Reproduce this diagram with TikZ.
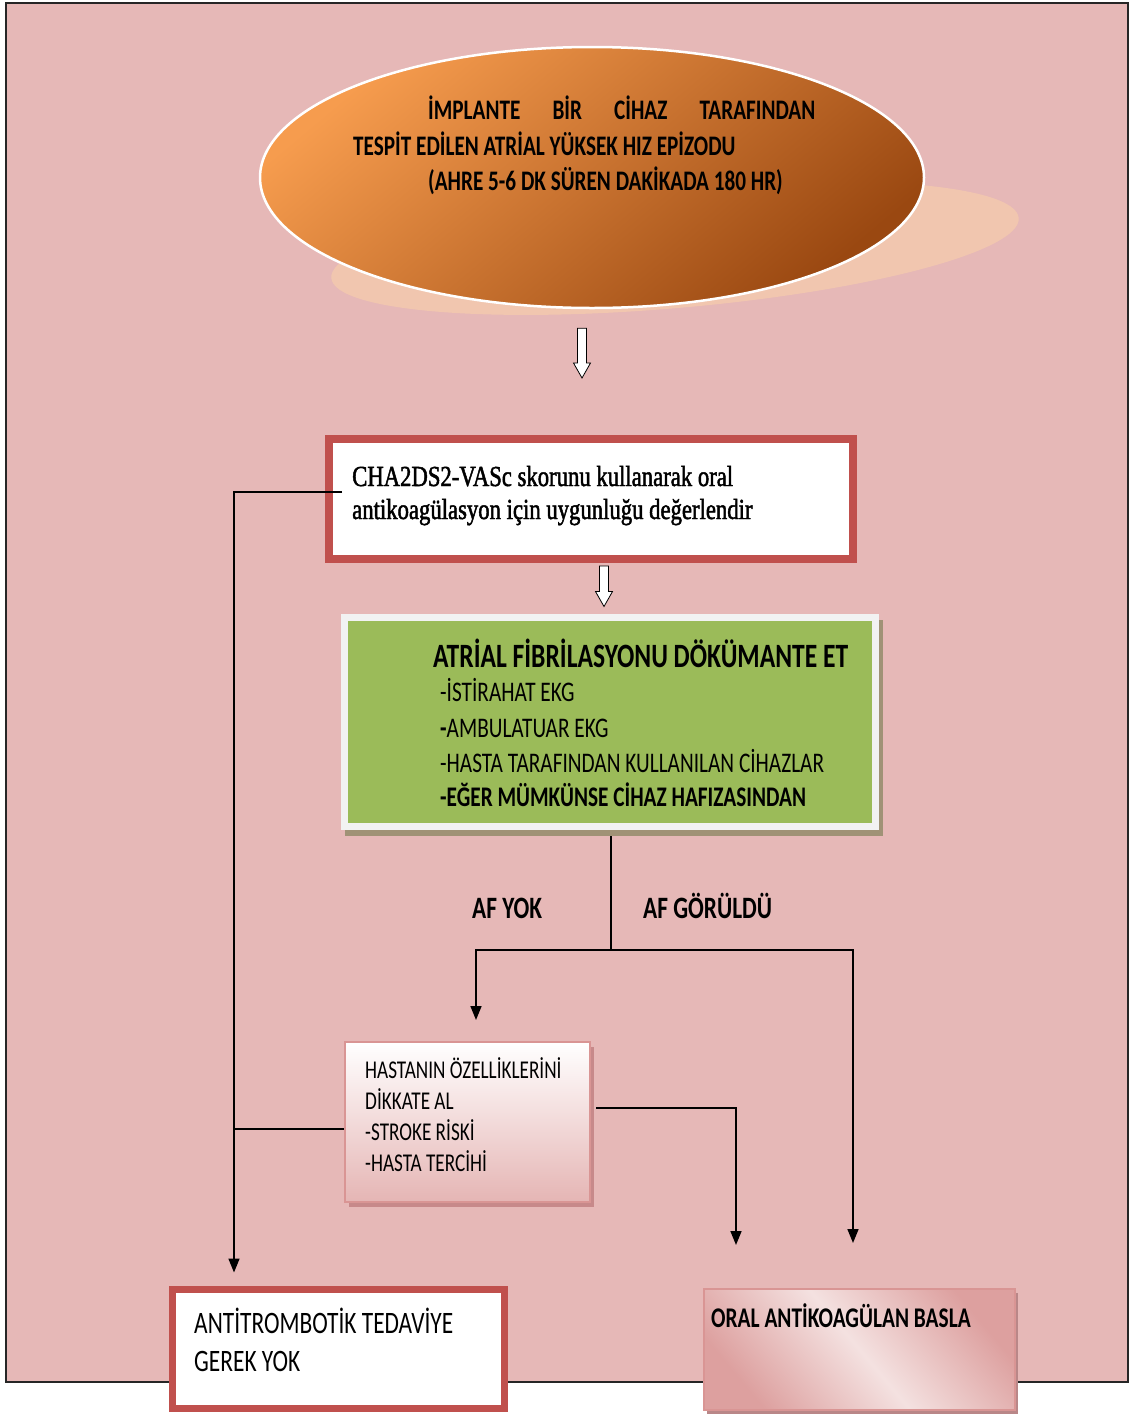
\documentclass[tikz,border=0pt]{standalone}
\usepackage{fontspec}
\usetikzlibrary{shapes.geometric,arrows.meta,calc}
\newfontfamily\calib[FakeStretch=0.75]{Carlito}
\newfontfamily\tnr[FakeStretch=0.78,FakeBold=1.6]{Liberation Serif}
\definecolor{bgpink}{HTML}{E6B8B7}
\definecolor{redb}{HTML}{C0504D}
\definecolor{agreen}{HTML}{9BBB59}
\definecolor{gframe}{HTML}{F2F2F2}
\definecolor{gshadow}{HTML}{A09276}
\definecolor{pinkb}{HTML}{D99594}
\definecolor{pinkl}{HTML}{F2DCDB}
\definecolor{pinksh}{HTML}{C7898A}
\definecolor{orL}{HTML}{F69C4E}
\definecolor{orD}{HTML}{9A4811}
\definecolor{ellsh}{HTML}{F1C6AF}
\pgfdeclarelayer{back}
\pgfdeclarelayer{lines}
\pgfsetlayers{back,lines,main}
\newcommand\hollowarrow[2]{%
  \draw[hollowstyle] ($(#1)+(-4.5,0)$) -- ($(#2)+(-4.5,-15)$) -- ($(#2)+(-8.5,-15)$) -- (#2)
    -- ($(#2)+(8.5,-15)$) -- ($(#2)+(4.5,-15)$) -- ($(#1)+(4.5,0)$) -- cycle;}
\begin{document}
\begin{tikzpicture}[x=1pt,y=-1pt,
  txt/.style={inner sep=0pt, anchor=base west, text=black},
  elltxt/.style={txt, font=\calib\bfseries\fontsize{28.3}{34}\selectfont},
  sertxt/.style={txt, font=\tnr\fontsize{29.1}{35}\selectfont},
  gtitle/.style={txt, font=\calib\bfseries\fontsize{34.1}{40}\selectfont},
  glist/.style={txt, font=\calib\fontsize{28.4}{34}\selectfont},
  aflabel/.style={txt, font=\calib\bfseries\fontsize{31.1}{36}\selectfont},
  hasttxt/.style={txt, font=\calib\fontsize{25.6}{30}\selectfont},
  antitxt/.style={txt, font=\calib\fontsize{31.2}{36}\selectfont},
  oraltxt/.style={txt, font=\calib\bfseries\fontsize{28.5}{34}\selectfont},
  hollowstyle/.style={draw=black, fill=white, line width=0.8pt, line join=miter},
  conn/.style={draw=black, line width=1.6pt},
  arr/.style={conn, -{Triangle[length=14pt,width=11pt]}},
  ellnode/.style={ellipse, draw=white, line width=2.5pt, inner sep=0pt,
    minimum width=664pt, minimum height=261pt, top color=orL, bottom color=orD, shading angle=40},
  chabox/.style={draw=redb, line width=6pt, fill=white, inner sep=0pt,
    minimum width=526pt, minimum height=122pt},
  greenbox/.style={fill=agreen, draw=gframe, line width=7pt, inner sep=0pt,
    minimum width=531pt, minimum height=209pt,
    preaction={fill=gshadow, draw=gshadow, line width=7pt, transform canvas={xshift=4pt,yshift=-6pt}}},
  hastbox/.style={draw=pinkb, line width=2pt, inner sep=0pt,
    minimum width=245pt, minimum height=160pt, top color=white, bottom color=bgpink!92!pinkb,
    preaction={fill=pinksh, transform canvas={xshift=4pt,yshift=-5pt}}},
  antibox/.style={draw=redb, line width=7pt, fill=white, inner sep=0pt,
    minimum width=332pt, minimum height=119pt},
  oralbox/.style={draw=pinkb, line width=2pt, inner sep=0pt,
    minimum width=311pt, minimum height=121pt,
    top color=pinkb!85!pinkl, bottom color=pinkb!85!pinkl, middle color=pinkl!85!white, shading angle=-50,
    preaction={fill=pinksh!80!gray, transform canvas={xshift=3pt,yshift=-4pt}}}
]
\useasboundingbox (0,0) rectangle (1129,1414);
\begin{pgfonlayer}{back}
  \fill[white] (0,0) rectangle (1129,1414);
  \fill[bgpink] (6,3) rectangle (1128,1382);
  \draw[black!85, line width=1.5pt] (6,3) rectangle (1128,1382);
  \fill[ellsh, rotate around={5:(675,248)}] (675,248) ellipse [x radius=345, y radius=60];
\end{pgfonlayer}

% nodes
\node[ellnode] (ell) at (592,177.5) {};
\node[elltxt] (e1) at (428,119) {\makebox[387pt][s]{İMPLANTE BİR CİHAZ TARAFINDAN}};
\node[elltxt] (e2) at (353,155) {TESPİT EDİLEN ATRİAL YÜKSEK HIZ EPİZODU};
\node[elltxt] (e3) at (428,190) {(AHRE 5-6 DK SÜREN DAKİKADA 180 HR)};

\node[chabox] (cha) at (591,499) {};
\draw[redb, line width=3pt] ($(cha.north west)+(6.5,6.5)$) rectangle ($(cha.south east)+(-6.5,-6.5)$);
\node[sertxt] (c1) at (352,486) {CHA2DS2-VASc skorunu kullanarak oral};
\node[sertxt] (c2) at (352,519) {antikoagülasyon için uygunluğu değerlendir};

\node[greenbox] (green) at (610,722) {};
\node[gtitle] (g0) at (433,667) {ATRİAL FİBRİLASYONU DÖKÜMANTE ET};
\node[glist] (g1) at (440,701) {-İSTİRAHAT EKG};
\node[glist] (g2) at (440,737) {\textbf{-}AMBULATUAR EKG};
\node[glist] (g3) at (440,772) {-HASTA TARAFINDAN KULLANILAN CİHAZLAR};
\node[glist] (g4) at (440,806) {\textbf{-EĞER MÜMKÜNSE CİHAZ HAFIZASINDAN}};

\node[aflabel] (afyok) at (472,918) {AF YOK};
\node[aflabel] (afgor) at (643,918) {AF GÖRÜLDÜ};

\node[hastbox] (hast) at (467.5,1122) {};
\node[hasttxt] (h1) at (365,1078) {HASTANIN ÖZELLİKLERİNİ};
\node[hasttxt] (h2) at (365,1109) {DİKKATE AL};
\node[hasttxt] (h3) at (365,1140) {-STROKE RİSKİ};
\node[hasttxt] (h4) at (365,1171) {-HASTA TERCİHİ};

\node[antibox] (anti) at (338.5,1349) {};
\node[antitxt] (a1) at (194,1333) {ANTİTROMBOTİK TEDAVİYE};
\node[antitxt] (a2) at (194,1371) {GEREK YOK};

\node[oralbox] (oral) at (859.5,1349.5) {};
\node[oraltxt] (o1) at (711,1327) {ORAL ANTİKOAGÜLAN BASLA};

% hollow arrows
\coordinate (a1t) at ($(ell.south)+(-10,19)$);
\coordinate (a1b) at ($(cha.north)+(-9,-57)$);
\hollowarrow{a1t}{a1b}
\coordinate (a2t) at ($(cha.south)+(13,3)$);
\coordinate (a2b) at ($(green.north)+(-6,-7.5)$);
\hollowarrow{a2t}{a2b}

% connectors
\coordinate (split) at (611,950);
\coordinate (tipL) at (476,1020);
\coordinate (tipR) at (853,1243);
\coordinate (tipM) at (736,1245);
\coordinate (jx) at (234,492);
\coordinate (L0) at ($(cha.west)+(17,-7)$);
\coordinate (hl) at ($(hast.west)+(0,7)$);
\coordinate (hr) at ($(hast.east)+(5,-14)$);
\begin{pgfonlayer}{lines}
  \draw[conn] (green.south -| split) -- (split);
  \draw[arr] (split) -| (tipL);
  \draw[arr] (split) -| (tipR);
  \draw[arr] (hr) -| (tipM);
  \draw[conn] (hl) -- (hl -| jx);
\end{pgfonlayer}
\draw[arr, shorten >=13.5pt] (L0) -- (jx) -- (jx |- anti.north);
\end{tikzpicture}
\end{document}
